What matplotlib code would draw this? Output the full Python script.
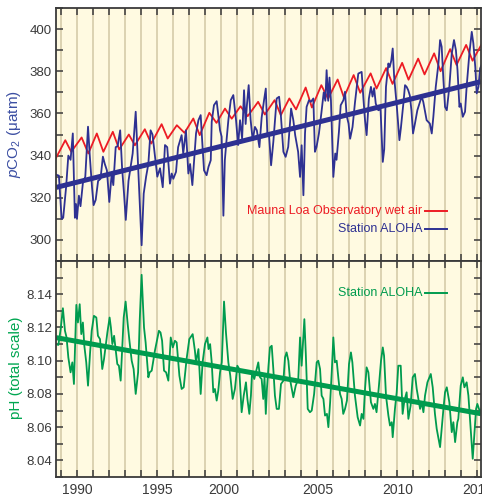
# Station ALOHA vs Mauna Loa: surface pCO2 and pH, 1988-2015
# values

import matplotlib

matplotlib.use("Agg")
import matplotlib.pyplot as plt
from matplotlib.ticker import MultipleLocator, FuncFormatter

# Mauna Loa wet air, seasonal peaks / troughs (uatm)
mlo_year = [1988.65, 1989.25, 1989.62, 1990.27, 1990.69, 1991.22, 1991.63, 1992.22, 1992.62,
            1993.22, 1993.60, 1994.22, 1994.62, 1995.27, 1995.65, 1996.22, 1996.70, 1997.25,
            1997.65, 1998.25, 1998.70, 1999.23, 1999.65, 2000.20, 2000.65, 2001.30, 2001.72,
            2002.33, 2002.72, 2003.25, 2003.67, 2004.27, 2004.66, 2005.25, 2005.67, 2006.27,
            2006.66, 2007.27, 2007.68, 2008.33, 2008.70, 2009.30, 2009.70, 2010.30, 2010.70,
            2011.30, 2011.70, 2012.30, 2012.70, 2013.30, 2013.70, 2014.30, 2014.70, 2015.30]
mlo_pco2 = [338.6, 347.3, 341.8, 348.6, 341.0, 350.5, 341.8, 351.3, 342.9,
            350.0, 344.9, 352.5, 345.7, 354.9, 348.1, 354.4, 350.8, 357.6,
            349.7, 360.3, 355.5, 362.3, 357.5, 363.4, 358.7, 365.5, 359.5,
            366.3, 359.2, 367.1, 361.9, 372.3, 362.8, 373.4, 367.0, 376.1,
            367.6, 378.2, 369.8, 379.0, 371.8, 381.5, 374.0, 384.0, 376.0,
            386.0, 378.5, 388.5, 380.0, 390.5, 383.0, 392.5, 385.0, 393.3]

# Station ALOHA seawater pCO2 (uatm)
aloha_year = [
    1988.65, 1988.85, 1989.02, 1989.12, 1989.30, 1989.44, 1989.58, 1989.72, 1989.85, 1989.92,
    1989.98, 1990.10, 1990.20, 1990.35, 1990.50, 1990.67, 1990.78, 1990.92, 1991.02, 1991.15,
    1991.30, 1991.45, 1991.60, 1991.72, 1991.85, 1992.00, 1992.15, 1992.25, 1992.40, 1992.52,
    1992.68, 1992.80, 1992.92, 1993.03, 1993.20, 1993.30, 1993.46, 1993.65, 1993.80, 1994.02,
    1994.15, 1994.30, 1994.44, 1994.58, 1994.70, 1994.85, 1995.00, 1995.17, 1995.34, 1995.48,
    1995.62, 1995.79, 1995.90, 1996.00, 1996.17, 1996.30, 1996.52, 1996.62, 1996.79, 1996.94,
    1997.05, 1997.19, 1997.30, 1997.42, 1997.57, 1997.71, 1997.82, 1997.92, 1998.08, 1998.20,
    1998.34, 1998.40, 1998.54, 1998.71, 1998.83, 1998.92, 1999.02, 1999.13, 1999.22, 1999.30,
    1999.44, 1999.59, 1999.75, 1999.92, 2000.05, 2000.17, 2000.30, 2000.42, 2000.52, 2000.60,
    2000.71, 2000.83, 2000.96, 2001.10, 2001.22, 2001.38, 2001.52, 2001.67, 2001.78, 2001.88,
    2001.98, 2002.11, 2002.25, 2002.46, 2002.61, 2002.72, 2002.88, 2003.02, 2003.18, 2003.36,
    2003.50, 2003.62, 2003.80, 2003.92, 2004.02, 2004.13, 2004.23, 2004.33, 2004.48, 2004.60,
    2004.75, 2004.85, 2004.95, 2005.10, 2005.25, 2005.40, 2005.50, 2005.58, 2005.68, 2005.76,
    2005.85, 2006.00, 2006.12, 2006.20, 2006.35, 2006.46, 2006.63, 2006.73, 2006.83, 2006.95,
    2007.05, 2007.20, 2007.35, 2007.56, 2007.77, 2007.88, 2007.98, 2008.08, 2008.22, 2008.35,
    2008.45, 2008.55, 2008.65, 2008.81, 2008.95, 2009.09, 2009.18, 2009.29, 2009.44, 2009.52,
    2009.62, 2009.71, 2009.80, 2009.97, 2010.13, 2010.22, 2010.38, 2010.48, 2010.58, 2010.68,
    2010.78, 2010.88, 2010.98, 2011.10, 2011.25, 2011.42, 2011.52, 2011.62, 2011.83, 2012.03,
    2012.15, 2012.25, 2012.40, 2012.57, 2012.67, 2012.77, 2012.88, 2012.98, 2013.09, 2013.25,
    2013.40, 2013.54, 2013.66, 2013.76, 2013.88, 2013.96, 2014.09, 2014.23, 2014.33, 2014.50,
    2014.65, 2014.75, 2014.87, 2014.96, 2015.07, 2015.17, 2015.30]
aloha_pco2 = [
    331.0, 330.5, 310.0, 310.5, 325.0, 340.0, 338.0, 350.5, 310.5, 317.0,
    310.0, 321.0, 316.0, 327.0, 330.0, 353.7, 340.0, 325.0, 316.5, 319.0,
    328.0, 329.0, 339.5, 336.0, 333.0, 318.0, 331.5, 326.0, 344.0, 344.5,
    352.0, 334.0, 322.0, 309.5, 328.0, 333.0, 341.0, 360.8, 335.0, 297.5,
    322.0, 330.0, 336.0, 352.0, 350.0, 340.0, 330.0, 334.0, 325.0, 345.0,
    344.0, 326.7, 331.5, 329.0, 332.3, 344.0, 349.7, 341.0, 352.0, 331.5,
    336.0, 326.0, 337.8, 350.5, 356.8, 359.2, 345.0, 333.0, 330.7, 334.7,
    337.8, 356.0, 363.9, 365.8, 358.0, 352.0, 349.0, 311.5, 337.8, 345.0,
    356.8, 366.3, 368.7, 356.8, 345.0, 356.8, 348.0, 371.0, 355.0, 364.0,
    373.4, 357.0, 347.3, 353.6, 352.0, 344.0, 358.0, 366.3, 371.8, 349.7,
    350.0, 335.4, 346.5, 367.1, 367.9, 359.2, 341.8, 339.4, 344.1, 362.3,
    356.8, 349.5, 341.8, 329.9, 344.9, 321.2, 350.5, 363.1, 366.3, 365.5,
    367.1, 341.8, 344.1, 350.5, 360.0, 370.0, 366.0, 380.5, 366.0, 377.0,
    366.3, 329.9, 341.0, 338.0, 351.3, 363.9, 366.3, 370.3, 359.0, 355.2,
    348.0, 353.6, 365.0, 378.9, 379.7, 367.0, 356.8, 349.7, 367.0, 372.6,
    368.0, 372.0, 364.7, 361.5, 362.0, 337.0, 343.0, 372.6, 383.7, 382.0,
    385.0, 390.8, 377.4, 363.0, 347.3, 353.0, 365.0, 373.4, 372.6, 371.0,
    368.5, 361.5, 350.5, 355.2, 361.5, 365.5, 368.0, 365.5, 356.8, 355.2,
    350.5, 358.4, 372.6, 383.7, 394.8, 391.6, 375.8, 363.1, 361.5, 372.6,
    388.4, 394.8, 390.0, 380.5, 363.1, 364.7, 358.4, 360.8, 372.6, 388.4,
    398.7, 393.2, 382.0, 369.5, 372.6, 381.3, 383.7]

# Station ALOHA pH, total scale
ph_year = [
    1988.65, 1988.82, 1988.96, 1989.10, 1989.23, 1989.33, 1989.44, 1989.58, 1989.69, 1989.79,
    1989.94, 1990.04, 1990.15, 1990.25, 1990.35, 1990.44, 1990.56, 1990.67, 1990.80, 1990.90,
    1991.04, 1991.19, 1991.29, 1991.42, 1991.56, 1991.67, 1991.88, 1992.02, 1992.10, 1992.19,
    1992.30, 1992.50, 1992.60, 1992.71, 1992.90, 1993.02, 1993.15, 1993.27, 1993.40, 1993.52,
    1993.65, 1993.80, 1993.90, 1994.02, 1994.17, 1994.27, 1994.44, 1994.52, 1994.65, 1994.85,
    1995.10, 1995.20, 1995.30, 1995.42, 1995.55, 1995.69, 1995.84, 1995.97, 1996.10, 1996.21,
    1996.38, 1996.52, 1996.65, 1996.83, 1997.00, 1997.21, 1997.35, 1997.42, 1997.57, 1997.71,
    1997.83, 1997.98, 1998.13, 1998.20, 1998.30, 1998.40, 1998.50, 1998.60, 1998.71, 1998.81,
    1998.92, 1999.03, 1999.17, 1999.29, 1999.44, 1999.56, 1999.71, 1999.85, 2000.00, 2000.12,
    2000.27, 2000.40, 2000.54, 2000.63, 2000.75, 2000.85, 2000.92, 2001.06, 2001.31, 2001.42,
    2001.52, 2001.62, 2001.70, 2001.78, 2001.85, 2001.95, 2002.04, 2002.15, 2002.25, 2002.35,
    2002.46, 2002.60, 2002.73, 2002.88, 2002.98, 2003.08, 2003.19, 2003.29, 2003.50, 2003.65,
    2003.81, 2003.92, 2004.02, 2004.19, 2004.28, 2004.40, 2004.54, 2004.65, 2004.80, 2004.96,
    2005.06, 2005.17, 2005.27, 2005.38, 2005.48, 2005.60, 2005.69, 2005.80, 2005.90, 2006.00,
    2006.10, 2006.21, 2006.31, 2006.42, 2006.52, 2006.62, 2006.73, 2006.85, 2006.98, 2007.10,
    2007.19, 2007.35, 2007.52, 2007.67, 2007.77, 2007.88, 2007.98, 2008.08, 2008.19, 2008.35,
    2008.50, 2008.60, 2008.70, 2008.85, 2008.98, 2009.09, 2009.17, 2009.29, 2009.44, 2009.54,
    2009.65, 2009.71, 2009.85, 2009.96, 2010.06, 2010.21, 2010.33, 2010.44, 2010.58, 2010.69,
    2010.83, 2010.96, 2011.10, 2011.21, 2011.42, 2011.52, 2011.63, 2011.73, 2011.88, 2012.09,
    2012.21, 2012.35, 2012.46, 2012.67, 2012.77, 2012.88, 2012.98, 2013.09, 2013.25, 2013.40,
    2013.50, 2013.61, 2013.75, 2013.81, 2013.96, 2014.09, 2014.19, 2014.33, 2014.44, 2014.58,
    2014.71, 2014.81, 2014.92, 2015.00, 2015.17, 2015.30]
ph = [
    8.110, 8.1095, 8.119, 8.1316, 8.118, 8.114, 8.102, 8.093, 8.099, 8.086,
    8.1336, 8.123, 8.134, 8.116, 8.123, 8.109, 8.099, 8.085, 8.105, 8.118,
    8.127, 8.126, 8.115, 8.113, 8.095, 8.101, 8.117, 8.126, 8.120, 8.110,
    8.115, 8.098, 8.097, 8.088, 8.126, 8.1356, 8.122, 8.111, 8.100, 8.095,
    8.080, 8.093, 8.124, 8.1517, 8.120, 8.111, 8.090, 8.093, 8.094, 8.106,
    8.118, 8.117, 8.112, 8.094, 8.093, 8.088, 8.114, 8.108, 8.112, 8.111,
    8.091, 8.083, 8.084, 8.101, 8.113, 8.116, 8.106, 8.099, 8.107, 8.080,
    8.099, 8.110, 8.114, 8.107, 8.110, 8.099, 8.081, 8.083, 8.076, 8.082,
    8.093, 8.099, 8.1356, 8.117, 8.099, 8.091, 8.077, 8.083, 8.097, 8.095,
    8.069, 8.079, 8.087, 8.077, 8.068, 8.079, 8.093, 8.089, 8.099, 8.090,
    8.089, 8.077, 8.090, 8.068, 8.083, 8.097, 8.108, 8.109, 8.095, 8.079,
    8.071, 8.071, 8.086, 8.088, 8.102, 8.105, 8.100, 8.089, 8.078, 8.085,
    8.089, 8.114, 8.097, 8.125, 8.104, 8.071, 8.069, 8.070, 8.080, 8.099,
    8.100, 8.095, 8.079, 8.077, 8.067, 8.068, 8.060, 8.075, 8.093, 8.114,
    8.099, 8.100, 8.090, 8.080, 8.077, 8.068, 8.071, 8.076, 8.098, 8.105,
    8.099, 8.079, 8.066, 8.061, 8.068, 8.065, 8.083, 8.096, 8.093, 8.075,
    8.071, 8.074, 8.069, 8.085, 8.100, 8.108, 8.103, 8.079, 8.067, 8.061,
    8.063, 8.054, 8.071, 8.081, 8.097, 8.097, 8.068, 8.076, 8.081, 8.065,
    8.073, 8.090, 8.092, 8.083, 8.071, 8.075, 8.069, 8.079, 8.087, 8.092,
    8.084, 8.068, 8.059, 8.048, 8.059, 8.071, 8.081, 8.084, 8.075, 8.057,
    8.063, 8.051, 8.063, 8.065, 8.085, 8.090, 8.084, 8.087, 8.079, 8.059,
    8.041, 8.055, 8.071, 8.074, 8.069, 8.072]

# linear trends, end points as drawn
trend_year = [1988.67, 2015.23]
pco2_trend = [324.9, 375.1]
ph_trend = [8.1139, 8.0681]

XLIM = (1988.67, 2015.23)
BG = "#fffae1"
GRID = "#d9cfae"
RED = "#ed1c24"
NAVY = "#2e3192"
GREEN = "#009b4e"
INK = "#3a3a3a"
FONT = ["Liberation Sans", "DejaVu Sans"]


def style_axes(ax, ymajor, yminor, ylim):
    ax.set_facecolor(BG)
    ax.set_xlim(*XLIM)
    ax.set_ylim(*ylim)
    ax.set_xticks(range(1989, 2016))
    ax.yaxis.set_major_locator(MultipleLocator(ymajor))
    ax.yaxis.set_minor_locator(MultipleLocator(yminor))
    ax.grid(axis="x", color=GRID, lw=1.3)
    ax.set_axisbelow(True)
    ax.tick_params(which="both", direction="in", length=5, width=1.1, color=INK,
                   top=True, right=True, labelsize=9.5, labelcolor=INK, pad=3)
    for s in ax.spines.values():
        s.set_color(INK)
        s.set_linewidth(1.3)


def legend_entry(ax, y, text, color):
    ax.text(0.8615, y, text, transform=ax.transAxes, color=color, fontsize=9,
            ha="right", va="center")
    ax.plot([0.868, 0.921], [y, y], transform=ax.transAxes, color=color, lw=1.4)


def year_label(v, _):
    # 2000 is drawn by hand below, it sits off its gridline in the original
    v = int(round(v))
    return str(v) if v % 5 == 0 and v != 2000 else ""


def main():
    plt.rcParams["font.family"] = FONT
    plt.rcParams["mathtext.fontset"] = "custom"
    plt.rcParams["mathtext.rm"] = "Liberation Sans"
    plt.rcParams["mathtext.it"] = "Liberation Sans:italic"

    fig = plt.figure(figsize=(4.82, 4.97), dpi=100)
    top = fig.add_axes([0.1162, 0.4748, 0.8818, 0.5091])
    bot = fig.add_axes([0.1162, 0.0402, 0.8818, 0.4346])

    # pCO2 panel
    style_axes(top, 20, 10, (290, 410))
    top.tick_params(labelbottom=False)
    top.plot(mlo_year, mlo_pco2, color=RED, lw=1.3)
    top.plot(aloha_year, aloha_pco2, color=NAVY, lw=1.3)
    top.plot(trend_year, pco2_trend, color=NAVY, lw=3.6, solid_capstyle="butt")
    top.set_ylabel(r"$\mathit{p}$CO$_2$ ($\mathrm{\mu}$atm)", color="#3b4ea2", fontsize=11)
    top.yaxis.set_label_coords(-0.078, 0.5)
    legend_entry(top, 0.199, "Mauna Loa Observatory wet air", RED)
    legend_entry(top, 0.128, "Station ALOHA", NAVY)

    # pH panel
    style_axes(bot, 0.02, 0.01, (8.03, 8.16))
    bot.yaxis.set_major_formatter(FuncFormatter(lambda v, _: f"{v:.2f}" if v < 8.155 else ""))
    bot.xaxis.set_major_formatter(FuncFormatter(year_label))
    bot.tick_params(axis="x", labelsize=10, pad=4)
    bot.plot(ph_year, ph, color=GREEN, lw=1.3)
    bot.plot(trend_year, ph_trend, color=GREEN, lw=3.6, solid_capstyle="butt")
    bot.set_ylabel("pH (total scale)", color="#00a651", fontsize=11)
    bot.yaxis.set_label_coords(-0.078, 0.505)
    legend_entry(bot, 0.850, "Station ALOHA", GREEN)

    bot.annotate("2000", xy=(2000, 0), xycoords=("data", "axes fraction"),
                 xytext=(-9.5, -4), textcoords="offset points",
                 ha="center", va="top", fontsize=10, color=INK)

    fig.savefig("out.png", dpi=100, facecolor="white")
    plt.close(fig)


if __name__ == "__main__":
    main()
